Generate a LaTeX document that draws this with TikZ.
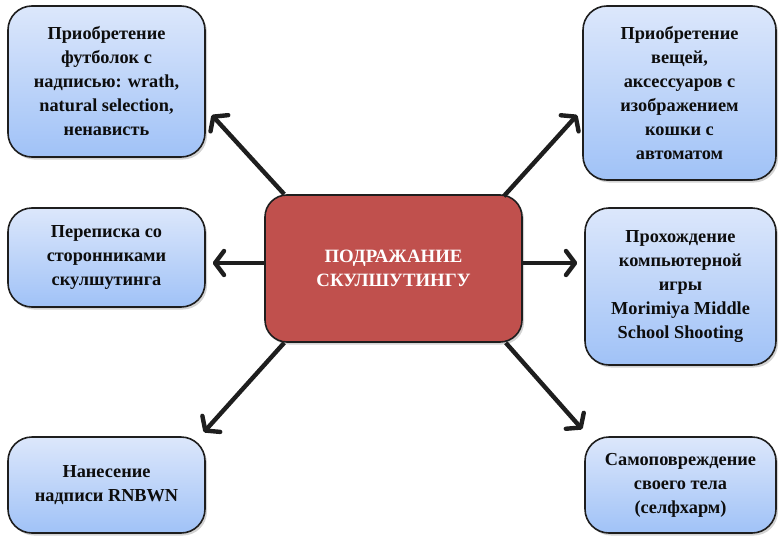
\documentclass[tikz,border=0pt]{standalone}
\usepackage{fontspec}
\setmainfont{Liberation Serif}
\usetikzlibrary{arrows.meta,calc,shadows}
\definecolor{boxtop}{RGB}{220,231,251}
\definecolor{boxbot}{RGB}{160,194,247}
\definecolor{hubred}{RGB}{192,80,77}
\definecolor{edge}{RGB}{30,30,30}
\begin{document}
\begin{tikzpicture}[x=1pt,y=-1pt,
  leaf/.style={draw=edge, line width=1.6pt, rounded corners=24pt, top color=boxtop, bottom color=boxbot,
    align=center, font=\fontsize{18.3}{24}\selectfont\bfseries, text=black!95,
    drop shadow={shadow xshift=2pt, shadow yshift=-2.5pt, opacity=0.35}, inner sep=0pt},
  hub/.style={draw=edge, line width=1.6pt, rounded corners=22pt, fill=hubred,
    align=center, font=\fontsize{18.8}{24}\selectfont\bfseries, text=white,
    drop shadow={shadow xshift=2pt, shadow yshift=-2.5pt, opacity=0.35}, inner sep=0pt},
  arr/.style={draw=edge, line width=4.4pt, -{Straight Barb[length=9pt,width=24pt,round]}}]
\useasboundingbox (0,0) rectangle (779,538);
\node[hub, minimum width=257pt, minimum height=147pt] (c) at (393.5,268.5) {ПОДРАЖАНИЕ\\СКУЛШУТИНГУ};
\node[leaf, minimum width=197pt, minimum height=151pt] (tl) at (106.5,81.5)
  {Приобретение\\футболок с\\надписью: wrath,\\natural selection,\\ненависть};
\node[leaf, minimum width=193pt, minimum height=174pt] (tr) at (679.5,93)
  {Приобретение\\вещей,\\аксессуаров с\\изображением\\кошки с\\автоматом};
\node[leaf, minimum width=197pt, minimum height=99pt] (ml) at (106.5,257.5)
  {Переписка со\\сторонниками\\скулшутинга};
\node[leaf, minimum width=191pt, minimum height=157pt] (mr) at (680.5,286.5)
  {Прохождение\\компьютерной\\игры\\Morimiya Middle\\School Shooting};
\node[leaf, minimum width=197pt, minimum height=96pt] (bl) at (106.5,485)
  {Нанесение\\надписи RNBWN};
\node[leaf, minimum width=191pt, minimum height=96pt] (br) at (680.5,485)
  {Самоповреждение\\своего тела\\(селфхарм)};
\draw[arr] ($(c.north west)+(20,0)$) -- ($(tl.east)+(6,33.5)$);
\draw[arr] ($(c.north east)+(-19,2)$) -- ($(tr.west)+(-5,22)$);
\draw[arr] ($(c.west)+(0,-5.5)$) -- ($(ml.east)+(7,5.5)$);
\draw[arr] ($(c.east)+(0,-5.5)$) -- ($(mr.west)+(-7,-23.5)$);
\draw[arr] ($(c.south west)+(20,0)$) -- ($(bl.north east)+(-2,-4)$);
\draw[arr] ($(c.south east)+(-17,0)$) -- ($(br.north west)+(-2,-7)$);
\end{tikzpicture}
\end{document}
